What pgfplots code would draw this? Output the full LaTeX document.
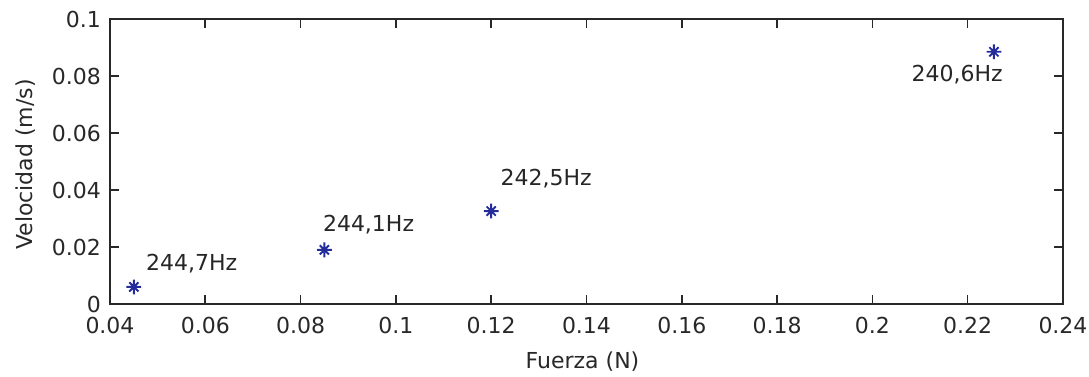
\documentclass[border=0pt]{standalone}
\usepackage{pgfplots}
\pgfplotsset{compat=1.18}
\usepackage{fontspec}
\setmainfont{DejaVu Sans}
\usetikzlibrary{calc}

\definecolor{markblue}{RGB}{36,44,156}
\definecolor{axgray}{RGB}{40,40,40}

% MATLAB-style '*' marker: a plus with shorter diagonals
\pgfdeclareplotmark{mstar}{%
  \pgfpathmoveto{\pgfqpoint{-\pgfplotmarksize}{0pt}}%
  \pgfpathlineto{\pgfqpoint{\pgfplotmarksize}{0pt}}%
  \pgfpathmoveto{\pgfqpoint{0pt}{-\pgfplotmarksize}}%
  \pgfpathlineto{\pgfqpoint{0pt}{\pgfplotmarksize}}%
  \pgfpathmoveto{\pgfqpoint{-0.62\pgfplotmarksize}{-0.62\pgfplotmarksize}}%
  \pgfpathlineto{\pgfqpoint{0.62\pgfplotmarksize}{0.62\pgfplotmarksize}}%
  \pgfpathmoveto{\pgfqpoint{-0.62\pgfplotmarksize}{0.62\pgfplotmarksize}}%
  \pgfpathlineto{\pgfqpoint{0.62\pgfplotmarksize}{-0.62\pgfplotmarksize}}%
  \pgfusepathqstroke}

\pgfplotstableread{
x      y
0.045  0.0060
0.085  0.0190
0.120  0.0326
0.2255 0.0885
}\measured

\begin{document}
\begin{tikzpicture}
\begin{axis}[
  scale only axis,
  width=476.5pt, height=142.5pt,
  xmin=0.04, xmax=0.24, ymin=0, ymax=0.1,
  xtick={0.04,0.06,...,0.241},
  ytick={0,0.02,...,0.101},
  xticklabels={0.04,0.06,0.08,0.1,0.12,0.14,0.16,0.18,0.2,0.22,0.24},
  yticklabels={0,0.02,0.04,0.06,0.08,0.1},
  tick align=inside,
  major tick length=4.5pt,
  axis line style={axgray, line width=0.8pt},
  every tick/.style={axgray, line width=0.8pt},
  tick label style={font=\fontsize{11}{13}\selectfont, text=axgray},
  xticklabel style={yshift=-3.2pt},
  yticklabel style={xshift=-1pt},
  label style={font=\fontsize{11}{13}\selectfont, text=axgray},
  xlabel={Fuerza (N)},
  ylabel={Velocidad (m/s)},
  xlabel style={at={($(axis description cs:0.5,0)+(-2pt,-32pt)$)}, anchor=base},
  ylabel style={at={($(axis description cs:0,0.5)+(-38.5pt,-1.5pt)$)}, anchor=base},
  clip=false,
]
\addplot[only marks, mark=mstar, mark size=3.7pt,
  mark options={markblue, line width=0.95pt}] table[x=x, y=y] {\measured};

\begin{scope}[every node/.style={inner sep=0pt, font=\fontsize{11}{13}\selectfont, text=black!85}]
\node[anchor=base west] at ($(axis cs:0.045,0.0060)+(6pt,8.3pt)$) {244,7Hz};
\node[anchor=base west] at ($(axis cs:0.085,0.0190)+(-0.9pt,9.2pt)$) {244,1Hz};
\node[anchor=base west] at ($(axis cs:0.120,0.0326)+(4.5pt,12.8pt)$) {242,5Hz};
\node[anchor=base west] at ($(axis cs:0.2255,0.0885)+(-41.3pt,-15pt)$) {240,6Hz};
\end{scope}

\coordinate (origin) at (rel axis cs:0,0);
\end{axis}
\pgfresetboundingbox
\path[use as bounding box] (origin) ++(-55pt,-36pt) rectangle ++(544.5pt,188pt);
\end{tikzpicture}
\end{document}
